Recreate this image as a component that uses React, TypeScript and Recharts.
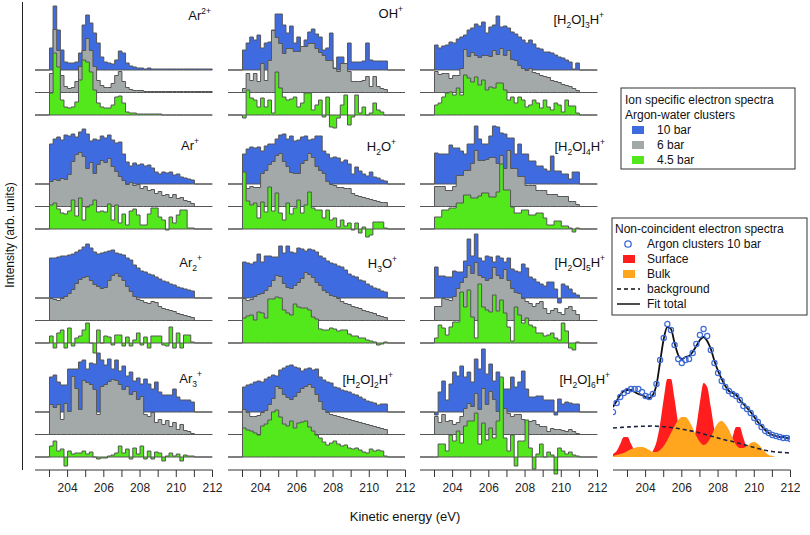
import { Area, ComposedChart, Line, Scatter, XAxis, YAxis } from "recharts";

// Ion-specific electron spectra of argon-water clusters, 3 stagnation pressures
// per ion, plus the non-coincident spectrum with its surface/bulk fit.

const FONT = "'Liberation Sans', Arial, sans-serif";
const BLUE = "#3f6be0";
const GRAY = "#a3a8a8";
const GREEN = "#52e81c";
const OUTLINE = "#555555";
const RED = "#ff1d1d";
const ORANGE = "#ffa51e";

// bin start energies (eV), 0.2 eV bins
const BIN_E = [
  203.0, 203.2, 203.4, 203.6, 203.8, 204.0, 204.2, 204.4, 204.6, 204.8,
  205.0, 205.2, 205.4, 205.6, 205.8, 206.0, 206.2, 206.4, 206.6, 206.8,
  207.0, 207.2, 207.4, 207.6, 207.8, 208.0, 208.2, 208.4, 208.6, 208.8,
  209.0, 209.2, 209.4, 209.6, 209.8, 210.0, 210.2, 210.4, 210.6, 210.8,
];
const BIN_E_LONG = [...BIN_E, 211.0, 211.2, 211.4, 211.6, 211.8];

// --- row 1 ---
const ar2pBlue = [22, 64, 40, 20, 8, 7, 7, 8, 17, 45, 55, 47, 37, 27, 13, 8, 7, 6, 10, 19, 17, 7, 4, 3, 2, 2, 1, 2, 1, 1, 1, 1, 1, 1, 1, 1, 1, 1, 1, 1, 1, 1, 1, 1, 1];
const ar2pGray = [19, 63, 42, 17, 6, 4, 5, 11, 26, 42, 54, 42, 26, 12, 7, 5, 5, 9, 17, 21, 11, 5, 3, 2, 2, 2, 1, 1, 1, 1, 1, 1, 1, 1, 1, 1, 1, 1, 1, 1, 1, 1, 1, 1, 1];
const ar2pGreen = [22, 62, 48, 15, 8, 7, 8, 13, 35, 55, 53, 43, 25, 12, 8, 7, 7, 10, 18, 19, 12, 3, 2, 2, 1, 1, 1, 1, 1, 1, 1, 0, 0, 0, 0, 0, 0, 0, 0, 0, 0, 0, 0, 0, 0];

const ohBlue = [20, 27, 33, 30, 35, 22, 27, 28, 40, 56, 56, 45, 37, 44, 27, 33, 23, 30, 38, 41, 36, 33, 20, 22, 37, 2, 13, 13, 3, 27, 8, 8, 8, 9, 27, 10, 9, 9, 9, 9];
const ohGray = [4, 19, 12, 19, 11, 29, 12, 32, 62, 55, 49, 39, 44, 44, 41, 41, 46, 46, 49, 49, 44, 40, 37, 32, 32, 24, 21, 29, 29, 21, 11, 11, 11, 12, 16, 6, 16, 6, 4, 3];
const ohGreen = [-3, 25, 17, 15, 8, 17, 8, 15, 2, 43, 27, 18, 15, 16, 18, 8, 12, 22, 22, 5, 10, 15, -2, 18, -12, -13, -3, 10, 20, -10, -2, 20, 2, 8, 0, 2, 12, 5, 3, 0];

const w3Blue = [25, 22, 24, 25, 28, 27, 31, 33, 35, 40, 42, 46, 44, 48, 37, 43, 45, 54, 43, 44, 42, 38, 36, 33, 30, 27, 30, 26, 22, 21, 18, 18, 17, 15, 13, 12, 10, 8, 1, 7];
const w3Gray = [21, 18, 19, 19, 14, 17, 17, 24, 43, 36, 40, 37, 35, 37, 37, 36, 42, 38, 44, 37, 42, 33, 32, 27, 24, 22, 24, 20, 19, 17, 16, 15, 12, 11, 10, 8, 7, 6, 4, 2];
const w3Green = [10, 12, 18, 22, 23, 20, 27, 20, 40, 37, 33, 38, 30, 35, 25, 28, 27, 32, 32, 25, 15, 18, 12, 18, 15, 8, 10, 15, 12, 7, 15, 8, 5, 12, 10, 3, 15, 9, 9, 2];

// --- row 2 ---
const arpBlue = [40, 45, 47, 44, 49, 48, 50, 47, 52, 55, 50, 43, 45, 44, 48, 46, 49, 44, 41, 42, 30, 22, 18, 21, 19, 20, 18, 19, 16, 12, 10, 12, 11, 12, 9, 10, 7, 6, 5, 4];
const arpGray = [25, 27, 26, 28, 27, 32, 45, 52, 54, 50, 38, 44, 33, 42, 46, 44, 48, 40, 35, 30, 26, 22, 24, 21, 22, 18, 20, 16, 17, 13, 15, 11, 12, 9, 12, 8, 9, 6, 5, 3];
const arpGreen = [24, 26, 20, 16, 15, 18, 29, 13, 31, 9, 22, 24, 29, 17, 18, 17, 25, 9, 24, 6, 15, 4, 18, 20, 14, 4, 4, 15, 21, 21, 12, 9, -1, 12, 6, 14, 19, 19, 1, 1];

const h2oBlue = [30, 35, 37, 36, 37, 33, 38, 40, 40, 45, 49, 50, 45, 48, 43, 44, 47, 48, 44, 45, 48, 48, 33, 30, 26, 27, 26, 22, 24, 20, 10, 17, 13, 10, 8, 12, 7, 6, 4, 3];
const h2oGray = [21, 18, 20, 19, 19, 33, 36, 42, 45, 51, 53, 45, 40, 34, 33, 33, 43, 46, 53, 49, 40, 36, 33, 25, 22, 21, 19, 19, 18, 18, 13, 11, 10, 9, 8, 7, 6, 5, 4, 4];
const h2oGreen = [57, 28, 24, 26, 11, 27, 17, 42, 18, 36, 16, 9, 26, 15, 21, 29, 16, 24, 37, 21, 19, 19, 11, 19, 9, 11, 2, 9, 3, 6, -1, 6, -4, 2, -8, -6, 7, 7, 7, 1];

const w4Blue = [31, 30, 30, 30, 39, 36, 36, 33, 30, 40, 40, 58, 45, 40, 40, 48, 58, 57, 51, 50, 46, 46, 30, 40, 30, 30, 23, 23, 18, 18, 15, 13, 28, 13, 13, 10, 10, 5, 12, 12];
const w4Gray = [20, 20, 20, 16, 16, 20, 31, 31, 36, 36, 43, 56, 46, 46, 47, 49, 49, 43, 51, 38, 56, 38, 38, 30, 30, 21, 21, 21, 16, 16, 16, 12, 12, 12, 10, 10, 10, 5, 5, 2];
const w4Green = [12, 12, 19, 19, 21, 21, 26, 26, 34, 34, 31, 31, 33, 36, 36, 32, 32, 37, 65, 39, 39, 22, 16, 16, 19, 19, 14, 14, 16, 16, 11, 4, 4, 8, 8, 3, 3, 1, -3, 1];

// --- row 3 ---
const ar2Blue = [40, 40, 41, 42, 42, 43, 44, 46, 48, 51, 54, 50, 46, 44, 45, 46, 47, 48, 45, 44, 43, 40, 38, 33, 30, 27, 26, 24, 23, 21, 19, 17, 16, 14, 13, 11, 10, 9, 8, 7];
const ar2Gray = [22, 21, 20, 22, 24, 27, 31, 37, 41, 43, 44, 40, 36, 34, 32, 33, 40, 45, 47, 44, 40, 34, 29, 24, 21, 20, 18, 17, 19, 18, 14, 12, 11, 10, 9, 7, 6, 5, 4, 3];
const ar2Green = [7, -5, 10, 13, -5, 15, -3, 5, 7, 13, 20, 0, -10, 13, 0, 7, 6, -2, 8, 8, -3, 6, -3, 3, 10, -2, 6, -5, 7, 7, 7, -2, -3, 16, -5, 10, -5, 8, 8, 1];

const h3oBlue = [36, 35, 34, 36, 44, 36, 42, 42, 41, 41, 52, 45, 52, 46, 45, 50, 49, 47, 49, 48, 46, 42, 40, 37, 35, 34, 32, 31, 28, 24, 22, 21, 18, 17, 14, 12, 10, 9, 7, 6];
const h3oGray = [22, 20, 21, 24, 26, 27, 30, 34, 40, 45, 44, 37, 33, 32, 35, 38, 42, 48, 46, 43, 38, 35, 30, 28, 25, 24, 22, 19, 17, 16, 14, 13, 12, 10, 9, 8, 7, 5, 4, 3];
const h3oGreen = [25, 27, 28, 23, 31, 30, 25, 44, 44, 46, 45, 33, 30, 28, 39, 36, 35, 35, 33, 26, 24, 14, 13, 13, 15, 14, 12, 13, 13, 9, 7, 7, 5, 5, 3, 2, 1, -2, -1, 1];

const w5Blue = [31, 22, 22, 21, 21, 27, 26, 26, 37, 59, 42, 64, 40, 37, 42, 41, 36, 42, 40, 36, 40, 29, 27, 26, 34, 30, 21, 19, 16, 14, 12, 16, 16, 9, -5, 14, 12, 9, 5, 3];
const w5Gray = [14, 14, 22, 21, 20, 24, 32, 38, 43, 55, 47, 58, 45, 43, 40, 42, 53, 45, 42, 51, 40, 32, 28, 27, 22, 19, 17, 14, 17, 19, 12, 7, 10, 12, 8, 6, 12, 14, 10, 6];
const w5Green = [5, 18, 15, 8, 16, 21, 21, 51, 36, 53, 26, 5, 59, 36, 33, 31, 48, 32, 43, 30, 16, 2, 36, 28, 20, 25, 18, 16, 10, 10, 7, 8, 10, 5, 3, 20, 12, -5, -7, 1];

// --- row 4 ---
const ar3Blue = [35, 37, 30, 27, 27, 43, 43, 43, 50, 52, 43, 49, 48, 59, 52, 47, 53, 43, 52, 41, 46, 36, 40, 31, 34, 28, 33, 28, 23, 30, 20, 17, 17, 17, 23, 15, 12, 12, 12, 10];
const ar3Gray = [30, 27, 30, 15, 31, 23, 58, 46, 25, 54, 52, 50, 45, 20, 48, 50, 53, 55, 54, 50, 45, 48, 40, 43, 35, 38, 20, 18, 22, 12, 15, 10, 14, 8, 12, 5, 10, 4, 3, 1];
const ar3Green = [11, 16, 6, 8, -9, 6, 3, 4, 4, 6, 3, 5, 0, -2, -1, -1, 1, 2, 4, 11, 4, 8, -2, 9, 3, 11, -2, 6, -2, 5, 4, -4, 1, 4, 1, 3, -4, 2, 1, 1];

const w2Blue = [25, 27, 28, 30, 31, 30, 33, 35, 37, 36, 42, 44, 46, 47, 45, 44, 41, 43, 44, 42, 43, 35, 32, 30, 29, 25, 24, 22, 21, 20, 18, 17, 15, 13, 11, 10, 9, 7, 8, 8];
const w2Gray = [25, 22, 18, 18, 19, 22, 24, 30, 36, 48, 46, 40, 37, 35, 38, 42, 46, 48, 50, 47, 40, 33, 25, 22, 20, 19, 18, 17, 16, 15, 14, 13, 12, 11, 10, 9, 8, 7, 6, 5];
const w2Green = [29, 27, 26, 24, 22, 31, 33, 37, 45, 47, 40, 33, 31, 36, 29, 34, 35, 36, 30, 26, 22, 19, 15, 12, 14, 16, 13, 11, 12, 9, 8, 9, 7, 5, 4, 8, 6, 7, 6, 1];

const w6Blue = [-3, 20, 31, 12, 28, 40, 36, 46, 35, 40, 30, 53, 43, 63, 38, 48, 31, 40, 30, 23, 23, 35, 25, 30, 41, 23, 15, 15, 16, 16, 12, 12, 12, -3, 13, 8, 10, 9, 8, 8];
const w6Gray = [18, 12, 20, 13, 14, 10, 12, 18, 26, 31, 28, 41, 25, 46, 30, 43, 35, 23, 35, 26, 21, 18, 20, 20, 15, 12, 13, 14, 10, 8, 8, 3, 6, 5, 5, 4, 3, 5, 3, 1];
const w6Green = [0, 13, 13, 6, 22, 16, 26, 14, 31, 36, 36, 44, 13, 34, 17, 29, 19, 36, 80, 19, 6, 22, -9, 16, 16, 37, 9, -12, 3, 13, 0, 5, 2, -17, 9, 6, 3, 5, 2, 1];

// --- non-coincident spectrum and fit ---
const fitE = [
  202.2, 202.4, 202.6, 202.8, 203.0, 203.2, 203.4, 203.6, 203.8, 204.0,
  204.2, 204.4, 204.6, 204.8, 205.0, 205.2, 205.4, 205.6, 205.8, 206.0,
  206.2, 206.4, 206.6, 206.8, 207.0, 207.2, 207.4, 207.6, 207.8, 208.0,
  208.2, 208.4, 208.6, 208.8, 209.0, 209.2, 209.4, 209.6, 209.8, 210.0,
  210.2, 210.4, 210.6, 210.8, 211.0, 211.2, 211.4, 211.6, 211.8, 212.0,
];
const measured = [45, 54, 60, 64, 66, 68, 68, 68, 65, 61, 60, 63, 73, 97, 119, 133, 127, 112, 98, 94, 97, 98, 104, 113, 122, 128, 121, 107, 94, 84, 76, 70, 66, 63, 61, 57, 51, 48, 44, 39, 35, 30, 26, 24, 22, 21, 20, 19, 19, 18];
const fitTotal = [50, 56, 62, 66, 67, 67, 65, 63, 62, 60, 59, 62, 72, 95, 118, 130, 128, 114, 102, 98, 100, 101, 105, 111, 117, 120, 116, 108, 96, 86, 78, 71, 66, 64, 62, 57, 53, 49, 45, 40, 35, 31, 27, 24, 22, 21, 20, 20, 19, 19];
const surface = [3, 6, 13, 20, 20, 13, 6, 2, 1, 1, 2, 6, 15, 33, 58, 78, 78, 58, 33, 15, 6, 5, 12, 30, 55, 74, 70, 50, 27, 11, 4, 3, 8, 20, 30, 30, 19, 8, 2, 0, 0, 0, 0, 0, 0, 0, 0, 0, 0, 0];
const bulk = [1, 2, 3, 4, 6, 8, 9, 10, 10, 9, 7, 5, 5, 7, 11, 17, 24, 31, 37, 40, 40, 36, 29, 21, 15, 12, 14, 20, 28, 34, 36, 33, 27, 19, 12, 9, 9, 11, 14, 15, 13, 9, 5, 2, 1, 0, 0, 0, 0, 0];
const background = [29, 29.2, 29.5, 29.8, 30, 30.2, 30.4, 30.5, 30.7, 30.8, 30.9, 31, 30.8, 30.5, 30.2, 30, 29.5, 29, 28.5, 28, 27.3, 26.5, 25.8, 25, 24, 23, 22, 21, 20, 19, 18, 17, 16.2, 15.5, 14.5, 13.5, 12.5, 11.5, 10.5, 9.5, 8.5, 7.5, 6.8, 6, 5.5, 5, 4.8, 4.5, 4.2, 4];

const ENERGY_TICKS = [203, 204, 205, 206, 207, 208, 209, 210, 211, 212];

// layout
const E_MIN = 202.2;
const E_MAX = 212;
const COL_LEFT = [35, 227.5, 420, 612.5];
const GREEN_BASE_Y = [115, 229, 343, 457];
const PANEL_W = 177.5;
const Y_MIN = -25;
const Y_MAX = 115;
const OFF_GRAY = 22.5;
const OFF_BLUE = 45;
const AXIS_Y = 470;

type Part = [string, ("sub" | "sup")?];
type PanelDef = {
  row: number;
  col: number;
  energies: number[];
  blue: number[];
  gray: number[];
  green: number[];
  label: Part[];
  lx: number;
  ly: number;
};

const panels: PanelDef[] = [
  { row: 0, col: 0, energies: BIN_E_LONG, blue: ar2pBlue, gray: ar2pGray, green: ar2pGreen, label: [["Ar"], ["2+", "sup"]], lx: 211, ly: 20 },
  { row: 0, col: 1, energies: BIN_E, blue: ohBlue, gray: ohGray, green: ohGreen, label: [["OH"], ["+", "sup"]], lx: 403, ly: 18 },
  { row: 0, col: 2, energies: BIN_E, blue: w3Blue, gray: w3Gray, green: w3Green, label: [["[H"], ["2", "sub"], ["O]"], ["3", "sub"], ["H"], ["+", "sup"]], lx: 604, ly: 24 },
  { row: 1, col: 0, energies: BIN_E, blue: arpBlue, gray: arpGray, green: arpGreen, label: [["Ar"], ["+", "sup"]], lx: 199, ly: 150 },
  { row: 1, col: 1, energies: BIN_E, blue: h2oBlue, gray: h2oGray, green: h2oGreen, label: [["H"], ["2", "sub"], ["O"], ["+", "sup"]], lx: 396, ly: 151 },
  { row: 1, col: 2, energies: BIN_E, blue: w4Blue, gray: w4Gray, green: w4Green, label: [["[H"], ["2", "sub"], ["O]"], ["4", "sub"], ["H"], ["+", "sup"]], lx: 605, ly: 151 },
  { row: 2, col: 0, energies: BIN_E, blue: ar2Blue, gray: ar2Gray, green: ar2Green, label: [["Ar"], ["2", "sub"], ["+", "sup"]], lx: 202, ly: 267 },
  { row: 2, col: 1, energies: BIN_E, blue: h3oBlue, gray: h3oGray, green: h3oGreen, label: [["H"], ["3", "sub"], ["O"], ["+", "sup"]], lx: 397, ly: 268 },
  { row: 2, col: 2, energies: BIN_E, blue: w5Blue, gray: w5Gray, green: w5Green, label: [["[H"], ["2", "sub"], ["O]"], ["5", "sub"], ["H"], ["+", "sup"]], lx: 605, ly: 267 },
  { row: 3, col: 0, energies: BIN_E, blue: ar3Blue, gray: ar3Gray, green: ar3Green, label: [["Ar"], ["3", "sub"], ["+", "sup"]], lx: 202, ly: 383 },
  { row: 3, col: 1, energies: BIN_E, blue: w2Blue, gray: w2Gray, green: w2Green, label: [["[H"], ["2", "sub"], ["O]"], ["2", "sub"], ["H"], ["+", "sup"]], lx: 393, ly: 384 },
  { row: 3, col: 2, energies: BIN_E, blue: w6Blue, gray: w6Gray, green: w6Green, label: [["[H"], ["2", "sub"], ["O]"], ["6", "sub"], ["H"], ["+", "sup"]], lx: 610, ly: 384 },
];

// each trace is a range [offset, offset + value] so it fills from its own baseline
function buildRows(energies: number[], blue: number[], gray: number[], green: number[]) {
  const flat = (e: number) => ({ e, b: [OFF_BLUE, OFF_BLUE], g: [OFF_GRAY, OFF_GRAY], n: [0, 0] });
  const rows = [flat(E_MIN)];
  energies.forEach((e, i) => {
    rows.push({
      e,
      b: [OFF_BLUE, OFF_BLUE + blue[i]],
      g: [OFF_GRAY, OFF_GRAY + gray[i]],
      n: [0, green[i]],
    });
  });
  const last = energies[energies.length - 1];
  rows.push(flat(Math.round((last + 0.2) * 10) / 10));
  rows.push(flat(E_MAX));
  return rows;
}

function HistPanel({ p }: { p: PanelDef }) {
  const rows = buildRows(p.energies, p.blue, p.gray, p.green);
  const common = {
    type: "stepAfter" as const,
    stroke: OUTLINE,
    strokeWidth: 1,
    fillOpacity: 1,
    isAnimationActive: false,
    dot: false,
    activeDot: false,
  };
  return (
    <div style={{ position: "absolute", left: COL_LEFT[p.col], top: GREEN_BASE_Y[p.row] - Y_MAX }}>
      <ComposedChart width={PANEL_W} height={Y_MAX - Y_MIN} data={rows} margin={{ top: 0, right: 0, bottom: 0, left: 0 }}>
        <XAxis type="number" dataKey="e" domain={[E_MIN, E_MAX]} hide allowDataOverflow />
        <YAxis type="number" domain={[Y_MIN, Y_MAX]} hide allowDataOverflow />
        <Area {...common} dataKey="b" fill={BLUE} />
        <Area {...common} dataKey="g" fill={GRAY} />
        <Area {...common} dataKey="n" fill={GREEN} />
      </ComposedChart>
    </div>
  );
}

const FIT_Y_MIN = -12;
const FIT_Y_MAX = 140;

function FitPanel() {
  const rows = fitE.map((e, i) => ({
    e,
    meas: measured[i],
    fit: fitTotal[i],
    surf: surface[i],
    bulk: bulk[i],
    bg: background[i],
  }));
  return (
    <div style={{ position: "absolute", left: COL_LEFT[3], top: GREEN_BASE_Y[3] - FIT_Y_MAX }}>
      <ComposedChart width={PANEL_W} height={FIT_Y_MAX - FIT_Y_MIN} data={rows} margin={{ top: 0, right: 0, bottom: 0, left: 0 }}>
        <XAxis type="number" dataKey="e" domain={[E_MIN, E_MAX]} hide allowDataOverflow />
        <YAxis type="number" domain={[FIT_Y_MIN, FIT_Y_MAX]} hide allowDataOverflow />
        <Area type="monotone" dataKey="surf" baseValue={0} fill={RED} fillOpacity={1} stroke="none" isAnimationActive={false} />
        <Area type="monotone" dataKey="bulk" baseValue={0} fill={ORANGE} fillOpacity={1} stroke="none" isAnimationActive={false} />
        <Line type="monotone" dataKey="bg" stroke="#1b2440" strokeWidth={1.6} strokeDasharray="4 3" dot={false} isAnimationActive={false} />
        <Scatter
          dataKey="meas"
          isAnimationActive={false}
          shape={(s: any) => <circle cx={s.cx} cy={s.cy} r={2.6} fill="none" stroke="#3d6ad8" strokeWidth={1.2} />}
        />
        <Line type="monotone" dataKey="fit" stroke="#111" strokeWidth={1.8} dot={false} isAnimationActive={false} />
      </ComposedChart>
    </div>
  );
}

const EnergyTick = (props: any) => {
  const { x, y, payload } = props;
  if (payload.value % 2 !== 0) return <g />;
  return (
    <text x={x} y={y + 13} textAnchor="middle" fontSize={12} fontFamily={FONT} fill="#222">
      {payload.value}
    </text>
  );
};

const axisRows = [{ e: E_MIN, v: 0 }, { e: E_MAX, v: 0 }];

function EnergyAxis({ col }: { col: number }) {
  return (
    <div style={{ position: "absolute", left: COL_LEFT[col] - 20, top: AXIS_Y - 10 }}>
      <ComposedChart width={PANEL_W + 40} height={50} data={axisRows} margin={{ top: 0, right: 20, bottom: 0, left: 20 }}>
        <XAxis
          type="number"
          dataKey="e"
          domain={[E_MIN, E_MAX]}
          allowDataOverflow
          ticks={ENERGY_TICKS}
          interval={0}
          tickSize={7}
          tickLine={{ stroke: "#333" }}
          axisLine={{ stroke: "#333" }}
          tick={<EnergyTick />}
          height={40}
        />
        <YAxis hide domain={[0, 1]} />
        <Line dataKey="v" stroke="none" dot={false} isAnimationActive={false} />
      </ComposedChart>
    </div>
  );
}

function IonLabel({ x, y, parts }: { x: number; y: number; parts: Part[] }) {
  let shift = 0;
  return (
    <text x={x} y={y} textAnchor="end" fontSize={13} fontFamily={FONT} fill="#111">
      {parts.map(([t, kind], i) => {
        const target = kind === "sub" ? 3.5 : kind === "sup" ? -6 : 0;
        const dy = target - shift;
        shift = target;
        return (
          <tspan key={i} dy={dy} fontSize={kind ? 8.5 : 13}>
            {t}
          </tspan>
        );
      })}
    </text>
  );
}

function Overlay() {
  const txt = { fontFamily: FONT, fontSize: 12, fill: "#111" };
  return (
    <svg width={810} height={535} style={{ position: "absolute", left: 0, top: 0, pointerEvents: "none" }}>
      <line x1={22.5} y1={2} x2={22.5} y2={470} stroke="#222" strokeWidth={1} />
      <text {...txt} transform="rotate(-90)" x={-235} y={14} textAnchor="middle">
        Intensity (arb. units)
      </text>
      <text {...txt} fontSize={13} x={405} y={521} textAnchor="middle">
        Kinetic energy (eV)
      </text>
      {panels.map((p, i) => (
        <IonLabel key={i} x={p.lx} y={p.ly} parts={p.label} />
      ))}

      {/* ion specific legend */}
      <rect x={621} y={88} width={174} height={81} fill="#fff" stroke="#333" />
      <text {...txt} x={625} y={104}>Ion specific electron spectra</text>
      <text {...txt} x={625} y={119}>Argon-water clusters</text>
      <rect x={632} y={126} width={12} height={8} fill={BLUE} />
      <text {...txt} x={657} y={134}>10 bar</text>
      <rect x={632} y={141} width={12} height={8} fill={GRAY} />
      <text {...txt} x={657} y={149}>6 bar</text>
      <rect x={632} y={156} width={12} height={8} fill={GREEN} />
      <text {...txt} x={657} y={164}>4.5 bar</text>

      {/* non-coincident legend */}
      <rect x={612} y={218} width={195} height={97} fill="#fff" stroke="#333" />
      <text {...txt} x={615} y={233}>Non-coincident electron spectra</text>
      <circle cx={628} cy={244} r={3.2} fill="none" stroke="#3d6ad8" strokeWidth={1.3} />
      <text {...txt} x={647} y={248}>Argon clusters 10 bar</text>
      <rect x={623} y={255} width={12} height={8} fill={RED} />
      <text {...txt} x={647} y={263}>Surface</text>
      <rect x={623} y={270} width={12} height={8} fill={ORANGE} />
      <text {...txt} x={647} y={278}>Bulk</text>
      <line x1={617} y1={289} x2={640} y2={289} stroke="#111" strokeWidth={1.5} strokeDasharray="4 3" />
      <text {...txt} x={647} y={293}>background</text>
      <line x1={617} y1={304} x2={640} y2={304} stroke="#111" strokeWidth={1.5} />
      <text {...txt} x={647} y={308}>Fit total</text>
    </svg>
  );
}

export default function App() {
  return (
    <div style={{ position: "absolute", left: 0, top: 0, width: 810, height: 535, background: "#fff", overflow: "hidden" }}>
      {panels.map((p, i) => (
        <HistPanel key={i} p={p} />
      ))}
      <FitPanel />
      {[0, 1, 2, 3].map((c) => (
        <EnergyAxis key={c} col={c} />
      ))}
      <Overlay />
    </div>
  );
}
